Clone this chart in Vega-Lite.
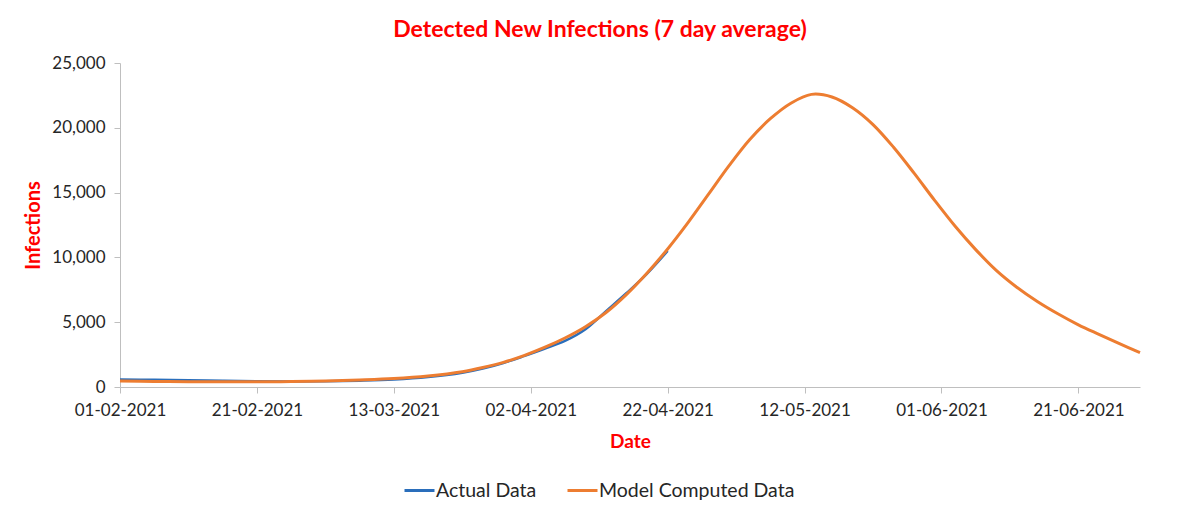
{
  "$schema": "https://vega.github.io/schema/vega-lite/v6.json",
  "width": 1020,
  "height": 324,
  "autosize": {"type": "none"},
  "padding": {"left": 120, "top": 63, "right": 60, "bottom": 129},
  "background": "white",
  "config": {
    "font": "Lato",
    "view": {"stroke": null}
  },
  "title": {
    "text": "Detected New Infections (7 day average)",
    "color": "#FF0000",
    "fontSize": 23,
    "fontWeight": "bold",
    "font": "Lato",
    "anchor": "middle",
    "dx": -30,
    "offset": 12
  },
  "data": {
    "values": [
      {"date": "2021-02-01", "value": 580, "series": "Actual Data"},
      {"date": "2021-02-06", "value": 550, "series": "Actual Data"},
      {"date": "2021-02-11", "value": 515, "series": "Actual Data"},
      {"date": "2021-02-16", "value": 480, "series": "Actual Data"},
      {"date": "2021-02-21", "value": 450, "series": "Actual Data"},
      {"date": "2021-02-26", "value": 430, "series": "Actual Data"},
      {"date": "2021-03-03", "value": 440, "series": "Actual Data"},
      {"date": "2021-03-08", "value": 490, "series": "Actual Data"},
      {"date": "2021-03-13", "value": 580, "series": "Actual Data"},
      {"date": "2021-03-18", "value": 770, "series": "Actual Data"},
      {"date": "2021-03-23", "value": 1100, "series": "Actual Data"},
      {"date": "2021-03-26", "value": 1420, "series": "Actual Data"},
      {"date": "2021-03-29", "value": 1850, "series": "Actual Data"},
      {"date": "2021-04-01", "value": 2380, "series": "Actual Data"},
      {"date": "2021-04-04", "value": 2950, "series": "Actual Data"},
      {"date": "2021-04-07", "value": 3550, "series": "Actual Data"},
      {"date": "2021-04-10", "value": 4450, "series": "Actual Data"},
      {"date": "2021-04-13", "value": 5850, "series": "Actual Data"},
      {"date": "2021-04-16", "value": 7250, "series": "Actual Data"},
      {"date": "2021-04-19", "value": 8750, "series": "Actual Data"},
      {"date": "2021-04-22", "value": 10500, "series": "Actual Data"},
      {"date": "2021-02-01", "value": 460, "series": "Model Computed Data"},
      {"date": "2021-02-06", "value": 430, "series": "Model Computed Data"},
      {"date": "2021-02-11", "value": 410, "series": "Model Computed Data"},
      {"date": "2021-02-16", "value": 400, "series": "Model Computed Data"},
      {"date": "2021-02-21", "value": 400, "series": "Model Computed Data"},
      {"date": "2021-02-26", "value": 420, "series": "Model Computed Data"},
      {"date": "2021-03-03", "value": 460, "series": "Model Computed Data"},
      {"date": "2021-03-08", "value": 540, "series": "Model Computed Data"},
      {"date": "2021-03-13", "value": 650, "series": "Model Computed Data"},
      {"date": "2021-03-18", "value": 850, "series": "Model Computed Data"},
      {"date": "2021-03-23", "value": 1180, "series": "Model Computed Data"},
      {"date": "2021-03-26", "value": 1500, "series": "Model Computed Data"},
      {"date": "2021-03-29", "value": 1900, "series": "Model Computed Data"},
      {"date": "2021-04-01", "value": 2420, "series": "Model Computed Data"},
      {"date": "2021-04-04", "value": 3050, "series": "Model Computed Data"},
      {"date": "2021-04-07", "value": 3780, "series": "Model Computed Data"},
      {"date": "2021-04-10", "value": 4650, "series": "Model Computed Data"},
      {"date": "2021-04-13", "value": 5750, "series": "Model Computed Data"},
      {"date": "2021-04-16", "value": 7150, "series": "Model Computed Data"},
      {"date": "2021-04-19", "value": 8800, "series": "Model Computed Data"},
      {"date": "2021-04-22", "value": 10650, "series": "Model Computed Data"},
      {"date": "2021-04-25", "value": 12700, "series": "Model Computed Data"},
      {"date": "2021-04-28", "value": 14900, "series": "Model Computed Data"},
      {"date": "2021-05-01", "value": 17100, "series": "Model Computed Data"},
      {"date": "2021-05-04", "value": 19100, "series": "Model Computed Data"},
      {"date": "2021-05-07", "value": 20700, "series": "Model Computed Data"},
      {"date": "2021-05-10", "value": 21900, "series": "Model Computed Data"},
      {"date": "2021-05-13", "value": 22580, "series": "Model Computed Data"},
      {"date": "2021-05-16", "value": 22380, "series": "Model Computed Data"},
      {"date": "2021-05-19", "value": 21550, "series": "Model Computed Data"},
      {"date": "2021-05-22", "value": 20250, "series": "Model Computed Data"},
      {"date": "2021-05-25", "value": 18500, "series": "Model Computed Data"},
      {"date": "2021-05-28", "value": 16500, "series": "Model Computed Data"},
      {"date": "2021-05-31", "value": 14400, "series": "Model Computed Data"},
      {"date": "2021-06-03", "value": 12400, "series": "Model Computed Data"},
      {"date": "2021-06-06", "value": 10600, "series": "Model Computed Data"},
      {"date": "2021-06-09", "value": 9000, "series": "Model Computed Data"},
      {"date": "2021-06-12", "value": 7700, "series": "Model Computed Data"},
      {"date": "2021-06-15", "value": 6600, "series": "Model Computed Data"},
      {"date": "2021-06-18", "value": 5650, "series": "Model Computed Data"},
      {"date": "2021-06-21", "value": 4800, "series": "Model Computed Data"},
      {"date": "2021-06-24", "value": 4060, "series": "Model Computed Data"},
      {"date": "2021-06-27", "value": 3340, "series": "Model Computed Data"},
      {"date": "2021-06-30", "value": 2650, "series": "Model Computed Data"}
    ]
  },
  "encoding": {
    "x": {
      "field": "date",
      "type": "temporal",
      "scale": {
        "type": "utc",
        "domain": [
          {"year": 2021, "month": 2, "date": 1, "utc": true},
          {"year": 2021, "month": 6, "date": 30, "utc": true}
        ]
      },
      "axis": {
        "title": "Date",
        "labelExpr": "utcFormat(datum.value, '%d-%m-%Y')",
        "values": [
          {"year": 2021, "month": 2, "date": 1, "utc": true},
          {"year": 2021, "month": 2, "date": 21, "utc": true},
          {"year": 2021, "month": 3, "date": 13, "utc": true},
          {"year": 2021, "month": 4, "date": 2, "utc": true},
          {"year": 2021, "month": 4, "date": 22, "utc": true},
          {"year": 2021, "month": 5, "date": 12, "utc": true},
          {"year": 2021, "month": 6, "date": 1, "utc": true},
          {"year": 2021, "month": 6, "date": 21, "utc": true}
        ],
        "grid": false,
        "domainColor": "#BFBFBF",
        "tickColor": "#BFBFBF",
        "tickSize": 6,
        "labelFontSize": 17,
        "labelColor": "#262626",
        "labelPadding": 9,
        "labelFlush": false,
        "labelOverlap": false,
        "titleColor": "#FF0000",
        "titleFontSize": 19,
        "titleFontWeight": "bold",
        "titleX": 510,
        "titleY": 54,
        "titleBaseline": "middle",
        "titleAlign": "center"
      }
    },
    "y": {
      "field": "value",
      "type": "quantitative",
      "scale": {"domain": [0, 25000], "nice": false},
      "axis": {
        "title": "Infections",
        "values": [0, 5000, 10000, 15000, 20000, 25000],
        "format": ",d",
        "grid": false,
        "domainColor": "#BFBFBF",
        "tickColor": "#BFBFBF",
        "tickSize": 6,
        "labelFontSize": 17,
        "labelColor": "#262626",
        "labelPadding": 9,
        "titleColor": "#FF0000",
        "titleFontSize": 20,
        "titleFontWeight": "bold",
        "titleX": -87,
        "titleY": 162,
        "titleAngle": -90,
        "titleBaseline": "middle",
        "titleAlign": "center"
      }
    },
    "color": {
      "field": "series",
      "type": "nominal",
      "scale": {
        "domain": ["Actual Data", "Model Computed Data"],
        "range": ["#2A6EBB", "#ED7D31"]
      },
      "legend": {
        "title": null,
        "orient": "none",
        "direction": "horizontal",
        "legendX": 283,
        "legendY": 411,
        "symbolType": "stroke",
        "symbolSize": 900,
        "symbolStrokeWidth": 3,
        "labelFontSize": 19.5,
        "labelLimit": 400,
        "labelColor": "#262626",
        "labelOffset": 0,
        "columnPadding": 24
      }
    }
  },
  "layer": [
    {
      "transform": [{"filter": "datum.series === 'Actual Data'"}],
      "mark": {"type": "line", "interpolate": "catmull-rom", "strokeWidth": 2.5}
    },
    {
      "transform": [{"filter": "datum.series === 'Model Computed Data'"}],
      "mark": {"type": "line", "interpolate": "catmull-rom", "strokeWidth": 3}
    }
  ]
}
